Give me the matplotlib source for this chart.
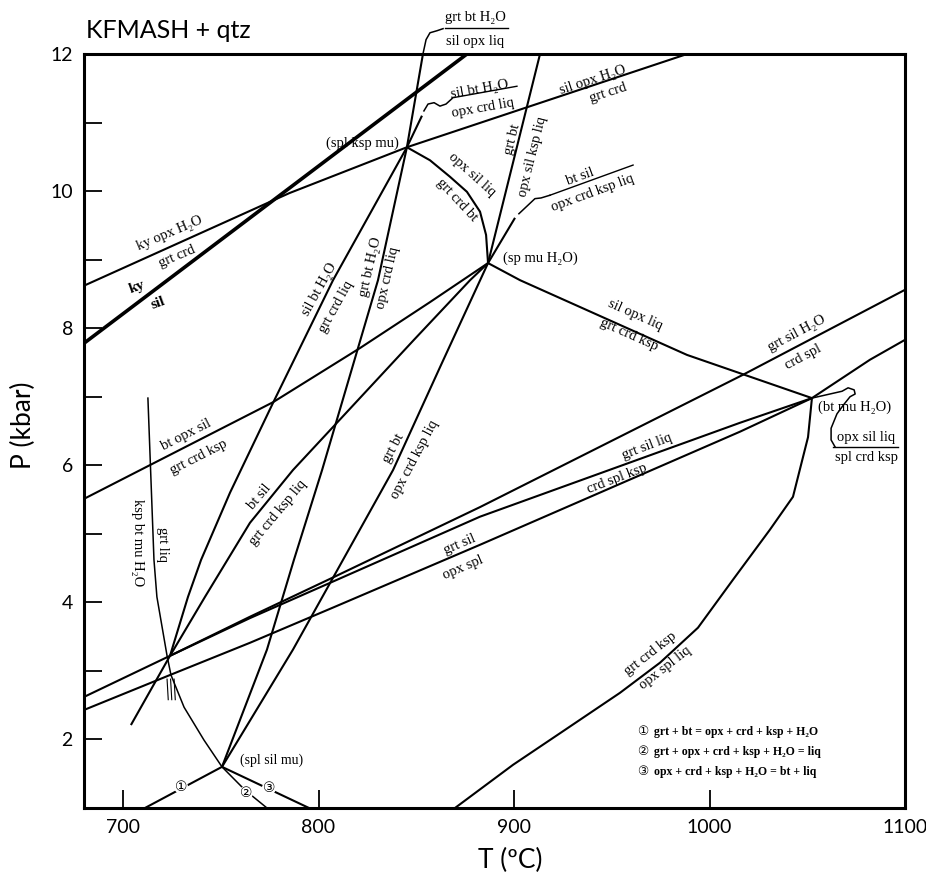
import matplotlib
matplotlib.use("Agg")
import matplotlib.pyplot as plt

# reaction curves: T in degC, P in kbar
ky_opx_T = [680, 785, 845.2, 988.5]
ky_opx_P = [8.62, 9.97, 10.64, 12.0]

ky_sil_T = [680, 875.9]
ky_sil_P = [7.78, 12.0]

grt_bt_h2o_T = [853.4, 845.2, 830.4, 801.8, 787.4, 773.6, 750.6]
grt_bt_h2o_P = [12.0, 10.64, 8.70, 5.93, 4.62, 3.31, 1.60]

sil_bt_h2o_T = [845.2, 807.4, 776.7, 754.7, 739.9, 733.2, 724.0]
sil_bt_h2o_P = [10.64, 8.70, 6.91, 5.60, 4.62, 4.08, 3.22]

bt_sil_T = [704.0, 724.0, 741.9, 764.9, 786.9, 809.4, 848.8, 877.5, 886.7]
bt_sil_P = [2.21, 3.22, 4.08, 5.16, 5.93, 6.62, 7.83, 8.70, 8.95]

grt_bt_T = [750.6, 786.9, 838.1, 862.6, 886.7]
grt_bt_P = [1.60, 3.31, 5.93, 7.46, 8.95]

bt_opx_sil_T = [680, 712.2, 776.7, 821.2, 857.0, 886.7]
bt_opx_sil_P = [5.51, 5.98, 6.92, 7.71, 8.38, 8.95]

opx_sil_liq_T = [845.2, 857.0, 867.2, 875.9, 882.6, 885.7, 886.7]
opx_sil_liq_P = [10.64, 10.45, 10.21, 9.99, 9.70, 9.36, 8.95]

grt_bt_ksp_T = [886.7, 913.3]
grt_bt_ksp_P = [8.95, 12.0]

bt_sil_short_T = [886.7, 900.5]
bt_sil_short_P = [8.95, 9.61]

sil_bt_short_T = [845.2, 852.9]
sil_bt_short_P = [10.64, 11.10]

sil_opx_liq_T = [886.7, 903.1, 988.5, 1052.4]
sil_opx_liq_P = [8.95, 8.70, 7.61, 6.98]

grt_sil_h2o_T = [680, 724.0, 764.9, 807.9, 882.6, 1017.1, 1100]
grt_sil_h2o_P = [2.62, 3.22, 3.79, 4.37, 5.39, 7.32, 8.56]

grt_sil_liq_T = [724.0, 764.9, 807.9, 882.6, 1015.6, 1052.4]
grt_sil_liq_P = [3.22, 3.77, 4.31, 5.25, 6.62, 6.98]

grt_sil_T = [680, 724.0, 764.9, 807.9, 882.6, 1015.6, 1052.4, 1082.1, 1100]
grt_sil_P = [2.43, 2.94, 3.41, 3.93, 4.84, 6.49, 6.98, 7.54, 7.83]

grt_crd_ksp_T = [869.8, 899.5, 923.5, 954.2, 974.7, 994.1, 1012.0, 1030.9, 1042.7, 1050.4, 1052.4]
grt_crd_ksp_P = [1.00, 1.63, 2.09, 2.68, 3.12, 3.63, 4.33, 5.06, 5.54, 6.41, 6.98]

ksp_bt_mu_T = [712.7, 715.8, 717.3, 722.5, 724.5, 731.2, 741.4, 750.6, 762.4, 773.6]
ksp_bt_mu_P = [6.98, 4.62, 4.08, 3.22, 2.94, 2.47, 1.99, 1.60, 1.26, 1.00]

r1_T = [711.2, 750.6]
r1_P = [1.00, 1.60]
r3_T = [750.6, 795.1]
r3_P = [1.60, 1.00]

# leader brackets to the stacked labels
br_top_T = [853.4, 855.0, 857.0, 860.6, 863.7]
br_top_P = [12.0, 12.21, 12.31, 12.34, 12.37]
br_silbt_T = [853.9, 856.0, 859.1, 862.1, 865.2, 868.3]
br_silbt_P = [11.17, 11.27, 11.29, 11.24, 11.27, 11.35]
br_btsil_T = [902.5, 906.6, 910.7, 913.8, 918.4]
br_btsil_P = [9.67, 9.78, 9.89, 9.90, 9.94]
br_btmu_T = [1052.4, 1067.8, 1070.9, 1074.0, 1074.5, 1071.9, 1068.8, 1065.2, 1062.2, 1062.2, 1064.2]
br_btmu_P = [6.98, 7.08, 7.13, 7.10, 7.04, 7.00, 6.89, 6.75, 6.54, 6.37, 6.27]

legend_lines = [
    "grt + bt = opx + crd + ksp + H\u2082O",
    "grt + opx + crd + ksp + H\u2082O = liq",
    "opx + crd + ksp + H\u2082O = bt + liq",
]
marks = ["\u2460", "\u2461", "\u2462"]

fig = plt.figure(figsize=(9.26, 8.77), dpi=100)
ax = fig.add_axes([0.0907, 0.0787, 0.8866, 0.8597])
ax.set_xlim(680, 1100)
ax.set_ylim(1, 12)

lw = 1.5
k = "black"
for T, P in [
    (ky_opx_T, ky_opx_P), (grt_bt_h2o_T, grt_bt_h2o_P), (sil_bt_h2o_T, sil_bt_h2o_P),
    (bt_sil_T, bt_sil_P), (grt_bt_T, grt_bt_P), (bt_opx_sil_T, bt_opx_sil_P),
    (opx_sil_liq_T, opx_sil_liq_P), (grt_bt_ksp_T, grt_bt_ksp_P),
    (bt_sil_short_T, bt_sil_short_P), (sil_bt_short_T, sil_bt_short_P),
    (sil_opx_liq_T, sil_opx_liq_P), (grt_sil_h2o_T, grt_sil_h2o_P),
    (grt_sil_liq_T, grt_sil_liq_P), (grt_sil_T, grt_sil_P),
    (grt_crd_ksp_T, grt_crd_ksp_P), (r1_T, r1_P), (r3_T, r3_P),
]:
    ax.plot(T, P, color=k, lw=lw, solid_capstyle="butt")
ax.plot(ky_sil_T, ky_sil_P, color=k, lw=2.6)
ax.plot(ksp_bt_mu_T, ksp_bt_mu_P, color=k, lw=1.1)

# small hatch at the lower invariant point
for t0 in [722.5, 724.3, 726.1]:
    ax.plot([t0, t0 + 0.6], [2.88, 2.58], color=k, lw=0.8)

for T, P in [(br_top_T, br_top_P), (br_silbt_T, br_silbt_P),
             (br_btsil_T, br_btsil_P), (br_btmu_T, br_btmu_P)]:
    ax.plot(T, P, color=k, lw=1.1, clip_on=False)

serif = ["Liberation Serif", "DejaVu Serif"]


def lab(s, x, y, rot=0, size=10.5, **kw):
    ax.text(x, y, s, rotation=rot, rotation_mode="anchor", ha="center", va="center",
            fontsize=size, family=serif, clip_on=False, **kw)


h2o = "H\u2082O"
lab("ky opx " + h2o, 724.0, 9.39, 23)
lab("grt crd", 727.6, 9.04, 23)
lab("ky", 707.1, 8.60, 20, size=11, weight="bold")
lab("sil", 717.9, 8.37, 20, size=11, weight="bold")
lab("(spl ksp mu)", 822.2, 10.70)
lab("grt bt " + h2o, 880.5, 12.54)
lab("sil opx liq", 880.0, 12.19)
lab("sil bt " + h2o, 882.6, 11.48, 10)
lab("opx crd liq", 884.1, 11.21, 10)
lab("sil opx " + h2o, 940.4, 11.62, 18)
lab("grt crd", 948.1, 11.43, 18)
lab("grt bt", 899.0, 10.75, 76)
lab("opx sil ksp liq", 909.7, 10.50, 76)
lab("opx sil liq", 878.5, 10.24, -42)
lab("grt crd bt", 870.8, 9.87, -47)
lab("bt sil", 933.8, 10.21, 20)
lab("opx crd ksp liq", 940.4, 9.97, 20)
lab("(sp mu " + h2o + ")", 913.3, 9.02)
lab("sil bt " + h2o, 800.7, 8.56, 61)
lab("grt crd liq", 808.9, 8.31, 61)
lab("grt bt " + h2o, 826.8, 8.89, 77)
lab("opx crd liq", 835.5, 8.73, 77)
lab("bt opx sil", 732.2, 6.44, 27)
lab("grt crd ksp", 738.8, 6.12, 27)
lab("ksp bt mu " + h2o, 707.6, 4.87, 270)
lab("grt liq", 720.4, 4.85, 270)
lab("bt sil", 770.0, 5.54, 50)
lab("grt crd ksp liq", 779.2, 5.30, 50)
lab("grt bt", 838.6, 6.25, 62)
lab("opx crd ksp liq", 849.3, 6.08, 62)
lab("sil opx liq", 961.9, 8.19, -24)
lab("grt crd ksp", 958.8, 7.90, -24)
lab("grt sil " + h2o, 1044.8, 7.93, 28)
lab("crd spl", 1047.8, 7.58, 28)
lab("grt sil liq", 968.0, 6.27, 21)
lab("crd spl ksp", 952.7, 5.81, 21)
lab("grt sil", 872.4, 4.84, 23)
lab("opx spl", 873.9, 4.50, 23)
lab("grt crd ksp", 969.6, 3.25, 38)
lab("opx spl liq", 977.2, 3.04, 38)
lab("(spl sil mu)", 776.2, 1.69, size=10)
lab("(bt mu " + h2o + ")", 1074.4, 6.85)
lab("opx sil liq", 1080.1, 6.40)
lab("spl crd ksp", 1080.1, 6.11)

# fraction bars of the stacked labels
ax.plot([864.7, 896.9], [12.38, 12.38], color=k, lw=1.0, clip_on=False)
ax.plot([868.3, 901.5], [11.36, 11.53], color=k, lw=1.0)
ax.plot([918.4, 960.9], [9.94, 10.38], color=k, lw=1.0)
ax.plot([1063.2, 1096.4], [6.27, 6.27], color=k, lw=1.0)

# numbered reaction markers on the low-P curves
for m, x, y in zip(marks, [729.6, 762.9, 774.6], [1.31, 1.22, 1.29]):
    ax.text(x, y, m, ha="center", va="center", fontsize=10,
            family=["DejaVu Sans", "Noto Sans CJK SC"],
            bbox=dict(boxstyle="circle,pad=0.0", fc="white", ec="none"))

for i, (m, s) in enumerate(zip(marks, legend_lines)):
    y = 2.11 - 0.29 * i
    ax.text(966.0, y, m, ha="center", va="center", fontsize=9,
            family=["DejaVu Sans", "Noto Sans CJK SC"])
    ax.text(971.5, y, s, ha="left", va="center", fontsize=8.5, family=serif, weight="bold")

sans = "Lato"
ax.set_xticks([700, 800, 900, 1000, 1100])
ax.set_yticks([2, 4, 6, 8, 10, 12])
ax.set_yticks(range(1, 13), minor=True)
ax.tick_params(axis="both", direction="in", length=13, width=1.3, labelsize=14, pad=8)
ax.tick_params(axis="y", which="minor", direction="in", length=13, width=1.3)
for t in ax.get_xticklabels() + ax.get_yticklabels():
    t.set_family(sans)
for s in ax.spines.values():
    s.set_linewidth(2.2)

fig.text(0.551, 0.019, "T (\u00baC)", ha="center", va="center", fontsize=19, family=sans)
fig.text(0.025, 0.515, "P (kbar)", ha="center", va="center", rotation=90, fontsize=19, family=sans)
fig.text(0.093, 0.965, "KFMASH + qtz", ha="left", va="center", fontsize=18, family=sans)

fig.savefig("out.png", dpi=100)
